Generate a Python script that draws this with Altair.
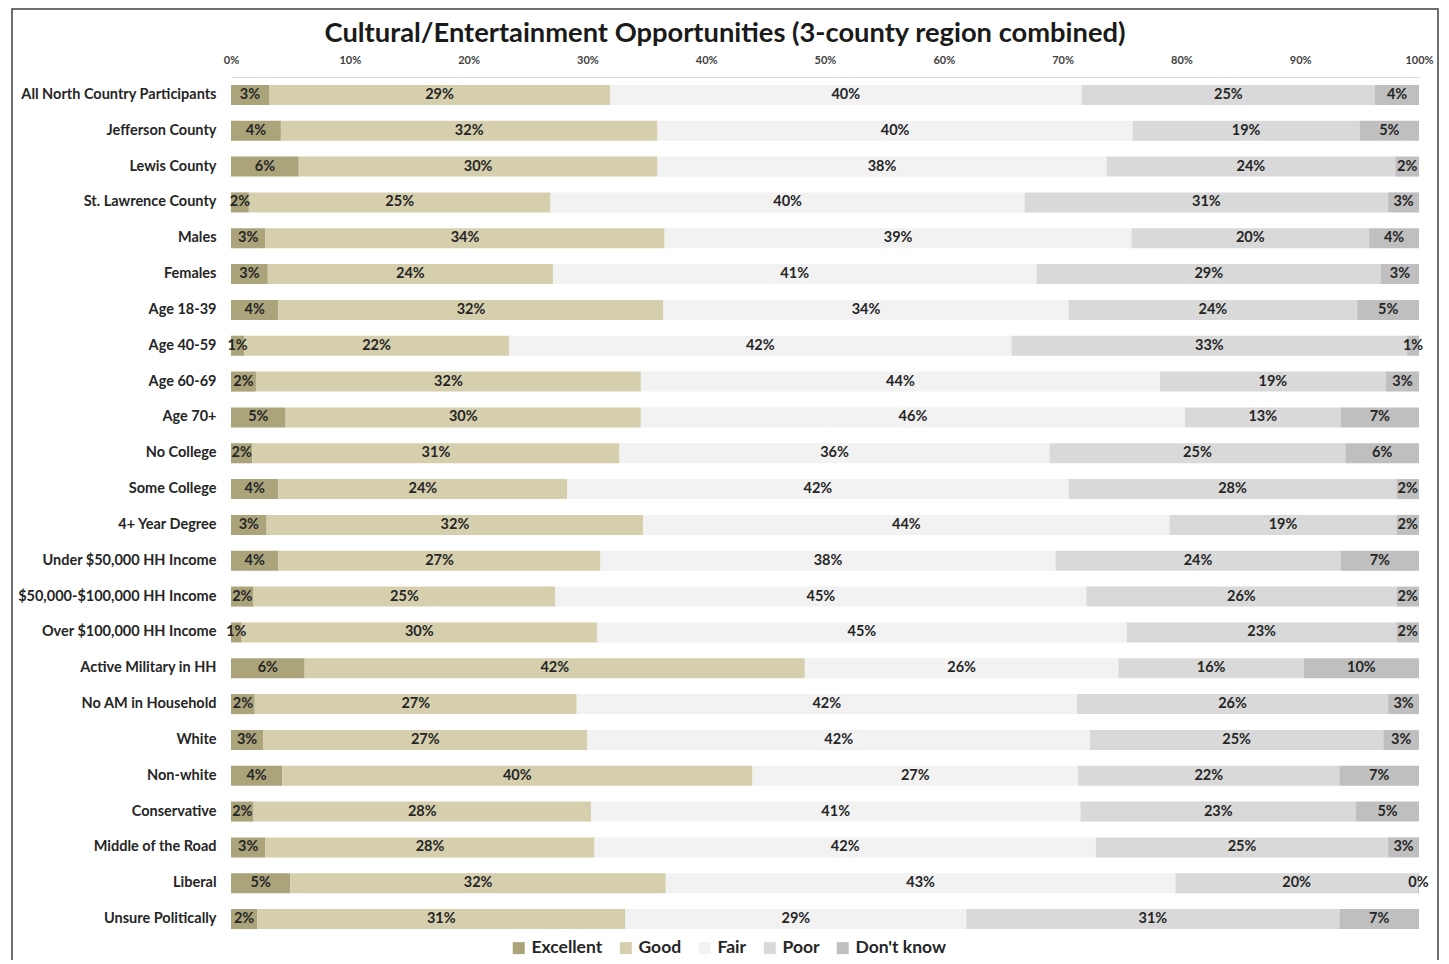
import altair as alt
import pandas as pd

title_text = "Cultural/Entertainment Opportunities (3-county region combined)"
categories = [
    "All North Country Participants", "Jefferson County", "Lewis County", "St. Lawrence County",
    "Males", "Females", "Age 18-39", "Age 40-59", "Age 60-69", "Age 70+",
    "No College", "Some College", "4+ Year Degree", "Under $50,000 HH Income",
    "$50,000-$100,000 HH Income", "Over $100,000 HH Income", "Active Military in HH",
    "No AM in Household", "White", "Non-white", "Conservative", "Middle of the Road",
    "Liberal", "Unsure Politically",
]
series = ["Excellent", "Good", "Fair", "Poor", "Don't know"]
colors = ["#aba47b", "#d5cfad", "#f2f2f2", "#d9d9d9", "#bfbfbf"]

excellent = [3.2, 4.2, 5.7, 1.5, 2.9, 3.1, 4.0, 1.1, 2.1, 4.6, 1.8, 4.0, 3.0, 4.0, 1.9, 0.9, 6.2, 2.0, 2.7, 4.3, 1.9, 2.9, 5.0, 2.2]
good = [28.7, 31.7, 30.2, 25.4, 33.6, 24.0, 32.4, 22.3, 32.4, 29.9, 30.9, 24.3, 31.7, 27.1, 25.4, 29.9, 42.1, 27.1, 27.3, 39.6, 28.4, 27.7, 31.6, 31.0]
fair = [39.7, 40.0, 37.8, 39.9, 39.3, 40.7, 34.1, 42.3, 43.7, 45.8, 36.2, 42.2, 44.3, 38.3, 44.7, 44.6, 26.4, 42.1, 42.3, 27.4, 41.2, 42.2, 42.9, 28.7]
poor = [24.7, 19.1, 24.3, 30.6, 20.0, 29.0, 24.3, 33.3, 19.0, 13.1, 24.9, 27.6, 19.1, 24.0, 26.1, 22.7, 15.6, 26.2, 24.7, 22.0, 23.2, 24.6, 20.4, 31.4]
dont_know = [3.7, 5.0, 2.0, 2.6, 4.2, 3.2, 5.2, 1.0, 2.8, 6.6, 6.2, 1.9, 1.9, 6.6, 1.9, 1.9, 9.7, 2.6, 3.0, 6.7, 5.3, 2.6, 0.1, 6.7]

rows = []
for ci, c in enumerate(categories):
    for si, (s, vals) in enumerate(zip(series, [excellent, good, fair, poor, dont_know])):
        rows.append({"cat": c, "series": s, "order": si, "value": vals[ci]})
df = pd.DataFrame(rows)

FONT = "Lato"

base = alt.Chart(df).transform_stack(
    stack="value", groupby=["cat"], as_=["v0", "v1"], offset="normalize",
    sort=[alt.SortField("order", order="ascending")],
).transform_calculate(
    mid="(datum.v0 + datum.v1) / 2",
    label="round(datum.value) + '%'",
)

yenc = alt.Y(
    "cat:N", sort=categories,
    scale=alt.Scale(paddingInner=0.44, paddingOuter=0.22),
    axis=alt.Axis(title=None, labelFontSize=14.5, labelFont=FONT, labelFontWeight="bold",
                  labelColor="#262626", ticks=False, domain=False, labelPadding=15,
                  labelLimit=400),
)

bars = base.mark_bar(strokeWidth=0).encode(
    x=alt.X("v0:Q", scale=alt.Scale(domain=[0, 1], nice=False),
            axis=alt.Axis(orient="top", format="%", values=[i / 10 for i in range(11)],
                          title=None, grid=False, ticks=False, domainColor="#d9d9d9",
                          labelFontSize=11, labelFont=FONT, labelFontWeight="bold",
                          labelColor="#404040", labelPadding=12, labelFlush=False)),
    x2="v1:Q",
    y=yenc,
    color=alt.Color("series:N", scale=alt.Scale(domain=series, range=colors),
                    legend=alt.Legend(orient="none", legendX=279, legendY=862,
                                      direction="horizontal", title=None,
                                      symbolType="square", symbolSize=144,
                                      symbolStrokeWidth=0, labelFontSize=17.5,
                                      labelFont=FONT, labelFontWeight="bold",
                                      labelColor="#262626", columnPadding=14,
                                      labelOffset=4, padding=0)),
)

texts = base.mark_text(fontSize=14.5, font=FONT, fontWeight="bold", color="#262626").encode(
    x="mid:Q",
    y=alt.Y("cat:N", sort=categories),
    text="label:N",
)

frame = alt.Chart(alt.Data(values=[{}])).mark_rect(
    fillOpacity=0, stroke="#404040", strokeWidth=1.5
).encode(
    x=alt.value(-219), x2=alt.value(1207), y=alt.value(-68), y2=alt.value(920)
)

title = alt.Chart(alt.Data(values=[{"t": title_text}])).mark_text(
    fontSize=27.3, font=FONT, fontWeight="bold", color="#1a1a1a", align="center", baseline="middle"
).encode(
    x=alt.value(494), y=alt.value(-43), text="t:N"
)

chart = alt.layer(bars, texts, frame, title).properties(
    width=1188, height=860,
    autosize=alt.AutoSizeParams(type="none"),
    padding={"left": 223, "top": 69, "right": 22, "bottom": 23},
).configure(background="white", view=alt.ViewConfig(stroke=None))

chart.save("out.html", embed_options={"renderer": "svg", "actions": False})
